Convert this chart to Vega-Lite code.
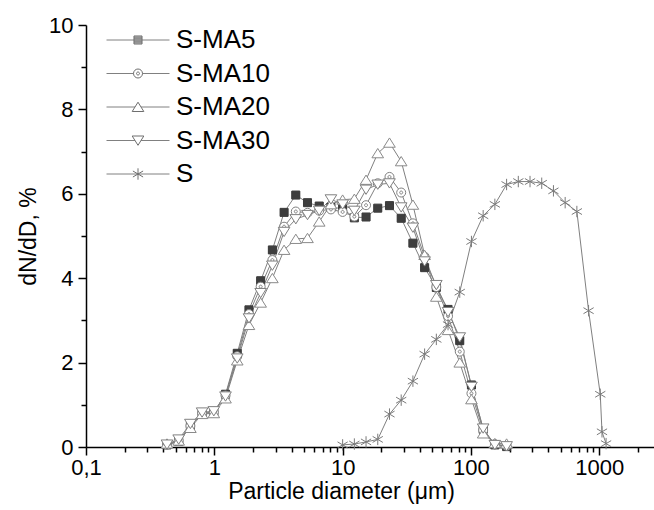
{
  "$schema": "https://vega.github.io/schema/vega-lite/v6.json",
  "width": 568,
  "height": 422,
  "autosize": {"type": "none"},
  "padding": {"left": 86, "top": 25, "right": 0, "bottom": 63},
  "background": "white",
  "config": {"view": {"stroke": null}, "font": "Liberation Sans"},
  "data": {"values": [
    {"series":"S-MA5","d":0.4276,"v":0.05},{"series":"S-MA5","d":0.5275,"v":0.13},{"series":"S-MA5","d":0.651,"v":0.5},{"series":"S-MA5","d":0.803,"v":0.79},{"series":"S-MA5","d":0.991,"v":0.83},{"series":"S-MA5","d":1.2225,"v":1.25},{"series":"S-MA5","d":1.509,"v":2.22},{"series":"S-MA5","d":1.862,"v":3.25},{"series":"S-MA5","d":2.297,"v":3.94},{"series":"S-MA5","d":2.834,"v":4.67},{"series":"S-MA5","d":3.497,"v":5.56},{"series":"S-MA5","d":4.315,"v":5.97},{"series":"S-MA5","d":5.324,"v":5.79},{"series":"S-MA5","d":6.569,"v":5.71},{"series":"S-MA5","d":8.106,"v":5.68},{"series":"S-MA5","d":10,"v":5.65},{"series":"S-MA5","d":12.34,"v":5.43},{"series":"S-MA5","d":15.22,"v":5.45},{"series":"S-MA5","d":18.78,"v":5.66},{"series":"S-MA5","d":23.18,"v":5.72},{"series":"S-MA5","d":28.6,"v":5.42},{"series":"S-MA5","d":35.29,"v":4.83},{"series":"S-MA5","d":43.54,"v":4.25},{"series":"S-MA5","d":53.73,"v":3.78},{"series":"S-MA5","d":66.28,"v":3.26},{"series":"S-MA5","d":81.79,"v":2.52},{"series":"S-MA5","d":100.9,"v":1.47},{"series":"S-MA5","d":124.5,"v":0.42},{"series":"S-MA5","d":153.6,"v":0.05},{"series":"S-MA5","d":189.6,"v":0.01},
    {"series":"S-MA10","d":0.4276,"v":0.05},{"series":"S-MA10","d":0.5275,"v":0.15},{"series":"S-MA10","d":0.651,"v":0.5},{"series":"S-MA10","d":0.803,"v":0.8},{"series":"S-MA10","d":0.991,"v":0.82},{"series":"S-MA10","d":1.2225,"v":1.22},{"series":"S-MA10","d":1.509,"v":2.15},{"series":"S-MA10","d":1.862,"v":3.15},{"series":"S-MA10","d":2.297,"v":3.8},{"series":"S-MA10","d":2.834,"v":4.43},{"series":"S-MA10","d":3.497,"v":5.22},{"series":"S-MA10","d":4.315,"v":5.58},{"series":"S-MA10","d":5.324,"v":5.55},{"series":"S-MA10","d":6.569,"v":5.6},{"series":"S-MA10","d":8.106,"v":5.63},{"series":"S-MA10","d":10,"v":5.57},{"series":"S-MA10","d":12.34,"v":5.46},{"series":"S-MA10","d":15.22,"v":5.73},{"series":"S-MA10","d":18.78,"v":6.25},{"series":"S-MA10","d":23.18,"v":6.4},{"series":"S-MA10","d":28.6,"v":6.03},{"series":"S-MA10","d":35.29,"v":5.3},{"series":"S-MA10","d":43.54,"v":4.51},{"series":"S-MA10","d":53.73,"v":3.79},{"series":"S-MA10","d":66.28,"v":3.1},{"series":"S-MA10","d":81.79,"v":2.26},{"series":"S-MA10","d":100.9,"v":1.27},{"series":"S-MA10","d":124.5,"v":0.4},{"series":"S-MA10","d":153.6,"v":0.07},{"series":"S-MA10","d":189.6,"v":0.03},
    {"series":"S-MA20","d":0.4276,"v":0.08},{"series":"S-MA20","d":0.5275,"v":0.15},{"series":"S-MA20","d":0.651,"v":0.45},{"series":"S-MA20","d":0.803,"v":0.78},{"series":"S-MA20","d":0.991,"v":0.8},{"series":"S-MA20","d":1.2225,"v":1.15},{"series":"S-MA20","d":1.509,"v":2.05},{"series":"S-MA20","d":1.862,"v":2.89},{"series":"S-MA20","d":2.297,"v":3.42},{"series":"S-MA20","d":2.834,"v":4.0},{"series":"S-MA20","d":3.497,"v":4.67},{"series":"S-MA20","d":4.315,"v":4.93},{"series":"S-MA20","d":5.324,"v":4.95},{"series":"S-MA20","d":6.569,"v":5.34},{"series":"S-MA20","d":8.106,"v":5.75},{"series":"S-MA20","d":10,"v":5.86},{"series":"S-MA20","d":12.34,"v":5.88},{"series":"S-MA20","d":15.22,"v":6.33},{"series":"S-MA20","d":18.78,"v":6.96},{"series":"S-MA20","d":23.18,"v":7.21},{"series":"S-MA20","d":28.6,"v":6.77},{"series":"S-MA20","d":35.29,"v":5.74},{"series":"S-MA20","d":43.54,"v":4.55},{"series":"S-MA20","d":53.73,"v":3.56},{"series":"S-MA20","d":66.28,"v":2.77},{"series":"S-MA20","d":81.79,"v":2.0},{"series":"S-MA20","d":100.9,"v":1.13},{"series":"S-MA20","d":124.5,"v":0.32},{"series":"S-MA20","d":153.6,"v":0.09},{"series":"S-MA20","d":189.6,"v":0.08},
    {"series":"S-MA30","d":0.4276,"v":0.06},{"series":"S-MA30","d":0.5275,"v":0.18},{"series":"S-MA30","d":0.651,"v":0.55},{"series":"S-MA30","d":0.803,"v":0.82},{"series":"S-MA30","d":0.991,"v":0.85},{"series":"S-MA30","d":1.2225,"v":1.2},{"series":"S-MA30","d":1.509,"v":2.1},{"series":"S-MA30","d":1.862,"v":3.05},{"series":"S-MA30","d":2.297,"v":3.65},{"series":"S-MA30","d":2.834,"v":4.3},{"series":"S-MA30","d":3.497,"v":5.1},{"series":"S-MA30","d":4.315,"v":5.4},{"series":"S-MA30","d":5.324,"v":5.5},{"series":"S-MA30","d":6.569,"v":5.6},{"series":"S-MA30","d":8.106,"v":5.87},{"series":"S-MA30","d":10,"v":5.75},{"series":"S-MA30","d":12.34,"v":5.6},{"series":"S-MA30","d":15.22,"v":6.1},{"series":"S-MA30","d":18.78,"v":6.22},{"series":"S-MA30","d":23.18,"v":6.25},{"series":"S-MA30","d":28.6,"v":5.68},{"series":"S-MA30","d":35.29,"v":5.2},{"series":"S-MA30","d":43.54,"v":4.4},{"series":"S-MA30","d":53.73,"v":3.84},{"series":"S-MA30","d":66.28,"v":3.2},{"series":"S-MA30","d":81.79,"v":2.6},{"series":"S-MA30","d":100.9,"v":1.43},{"series":"S-MA30","d":124.5,"v":0.44},{"series":"S-MA30","d":153.6,"v":0.05},{"series":"S-MA30","d":189.6,"v":0.02},
    {"series":"S","d":10,"v":0.05},{"series":"S","d":12.34,"v":0.07},{"series":"S","d":15.22,"v":0.12},{"series":"S","d":18.78,"v":0.18},{"series":"S","d":23.18,"v":0.78},{"series":"S","d":28.6,"v":1.11},{"series":"S","d":35.29,"v":1.56},{"series":"S","d":43.54,"v":2.2},{"series":"S","d":53.73,"v":2.55},{"series":"S","d":66.28,"v":2.9},{"series":"S","d":81.79,"v":3.67},{"series":"S","d":100.9,"v":4.87},{"series":"S","d":124.5,"v":5.48},{"series":"S","d":153.6,"v":5.75},{"series":"S","d":189.6,"v":6.22},{"series":"S","d":233.9,"v":6.29},{"series":"S","d":288.6,"v":6.29},{"series":"S","d":356.1,"v":6.25},{"series":"S","d":439.4,"v":6.07},{"series":"S","d":542.2,"v":5.79},{"series":"S","d":669,"v":5.58},{"series":"S","d":825.5,"v":3.23},{"series":"S","d":1018,"v":1.25},{"series":"S","d":1050,"v":0.36},{"series":"S","d":1130,"v":0.08}
  ]},
  "encoding": {
    "x": {
      "field": "d", "type": "quantitative",
      "scale": {"type": "log", "domain": [0.1, 2670], "nice": false},
      "axis": {
        "title": "Particle diameter (μm)",
        "values": [0.1,0.2,0.3,0.4,0.5,0.6,0.7,0.8,0.9,1,2,3,4,5,6,7,8,9,10,20,30,40,50,60,70,80,90,100,200,300,400,500,600,700,800,900,1000,2000],
        "labelExpr": "datum.value == 0.1 ? '0,1' : (datum.value == 1 || datum.value == 10 || datum.value == 100 || datum.value == 1000) ? format(datum.value, 'd') : ''",
        "labelOverlap": false, "labelFlush": false,
        "labelFontSize": 22, "titleFontSize": 23, "titleFontWeight": "normal",
        "labelColor": "black", "titleColor": "black",
        "domainColor": "black", "tickColor": "black", "domainWidth": 1.5, "tickWidth": 1.5,
        "tickSize": {"condition": {"test": "datum.value == 0.1 || datum.value == 1 || datum.value == 10 || datum.value == 100 || datum.value == 1000", "value": 8}, "value": 5},
        "labelPadding": 2, "titlePadding": 2, "titleX": 255, "grid": false
      }
    },
    "y": {
      "field": "v", "type": "quantitative",
      "scale": {"domain": [0, 10], "nice": false},
      "axis": {
        "title": "dN/dD, %",
        "values": [0,1,2,3,4,5,6,7,8,9,10],
        "labelExpr": "datum.value % 2 == 0 ? datum.label : ''",
        "labelOverlap": false, "labelFlush": false,
        "labelFontSize": 22, "titleFontSize": 23, "titleFontWeight": "normal",
        "labelColor": "black", "titleColor": "black",
        "domainColor": "black", "tickColor": "black", "domainWidth": 1.5, "tickWidth": 1.5,
        "tickSize": {"condition": {"test": "datum.value % 2 == 0", "value": 8}, "value": 5},
        "labelPadding": 5, "titlePadding": 8, "grid": false
      }
    }
  },
  "layer": [
    {
      "mark": {"type": "line", "strokeWidth": 1},
      "encoding": {
        "detail": {"field": "series", "type": "nominal"},
        "color": {
          "field": "series", "type": "nominal",
          "scale": {"domain": ["S-MA5", "S-MA10", "S-MA20", "S-MA30", "S"], "range": ["#808080", "#808080", "#808080", "#808080", "#808080"]},
          "legend": {
            "title": null, "orient": "none", "legendX": 39, "legendY": 2,
            "labelFontSize": 26, "labelColor": "black", "labelFont": "Liberation Sans",
            "symbolType": "M-3.15,0H3.15", "symbolSize": 400, "symbolStrokeWidth": 1,
            "labelOffset": 25, "rowPadding": 7.5
          }
        }
      }
    },
    {
      "mark": {"type": "point", "filled": true, "size": 144, "strokeWidth": 1, "opacity": 1},
      "encoding": {
        "shape": {
          "field": "series", "type": "nominal",
          "sort": ["S-MA5", "S-MA10", "S-MA20", "S-MA30", "S"],
          "scale": {
            "range": [
              "M-0.67,-0.67H0.67V0.67H-0.67ZM-0.67,-0.5H0.67M-0.67,-0.33H0.67M-0.67,-0.17H0.67M-0.67,0H0.67M-0.67,0.17H0.67M-0.67,0.33H0.67M-0.67,0.5H0.67",
              "M0.75,0A0.75,0.75 0 1,1 -0.75,0A0.75,0.75 0 1,1 0.75,0ZM0.25,0A0.25,0.25 0 1,1 -0.25,0A0.25,0.25 0 1,1 0.25,0Z",
              "M0,-0.8L0.97,0.75L-0.97,0.75Z",
              "M0,0.8L0.97,-0.75L-0.97,-0.75Z",
              "M0,-0.95V0.95M-0.85,-0.5L0.85,0.5M-0.85,0.5L0.85,-0.5"
            ]
          },
          "legend": {
            "title": null, "orient": "none", "legendX": 39, "legendY": 2,
            "labelFontSize": 26, "labelColor": "transparent", "labelFont": "Liberation Sans",
            "symbolSize": 144, "labelOffset": 25, "rowPadding": 7.5,
            "symbolFillColor": "white", "symbolStrokeColor": "#6e6e6e", "symbolStrokeWidth": 1, "symbolOpacity": 1
          }
        },
        "fill": {
          "field": "series", "type": "nominal",
          "scale": {"domain": ["S-MA5", "S-MA10", "S-MA20", "S-MA30", "S"], "range": ["#4a4a4a", "white", "white", "white", "white"]},
          "legend": null
        },
        "stroke": {
          "field": "series", "type": "nominal",
          "scale": {"domain": ["S-MA5", "S-MA10", "S-MA20", "S-MA30", "S"], "range": ["#3c3c3c", "#808080", "#8a8a8a", "#808080", "#7a7a7a"]},
          "legend": null
        }
      }
    }
  ]
}
